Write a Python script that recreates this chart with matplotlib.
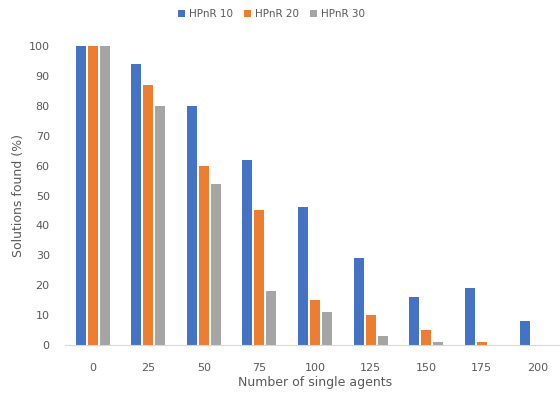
import matplotlib.pyplot as plt
import numpy as np

categories = ["0", "25", "50", "75", "100", "125", "150", "175", "200"]
hpnr10 = [100, 94, 80, 62, 46, 29, 16, 19, 8]
hpnr20 = [100, 87, 60, 45, 15, 10, 5, 1, 0]
hpnr30 = [100, 80, 54, 18, 11, 3, 1, 0, 0]

series = [
    ("HPnR 10", hpnr10, "#4472C4"),
    ("HPnR 20", hpnr20, "#ED7D31"),
    ("HPnR 30", hpnr30, "#A5A5A5"),
]

fig = plt.figure(figsize=(5.6, 3.97), dpi=100)
ax = fig.add_axes([65 / 560, 52 / 397, 500 / 560, 299 / 397])

x = np.arange(len(categories))
width = 0.18
step = 0.216
for i, (name, vals, color) in enumerate(series):
    ax.bar(x + (i - 1) * step, vals, width, color=color, label=name)

ax.set_xlim(-0.5, len(categories) - 0.5)
ax.set_ylim(0, 100)
ax.set_yticks(range(0, 101, 10))
ax.set_xticks(x)
ax.set_xticklabels(categories)
ax.tick_params(length=0, labelsize=8, colors="#595959")
ax.tick_params(axis="x", pad=13)
ax.tick_params(axis="y", pad=11)

for side in ("top", "right", "left"):
    ax.spines[side].set_visible(False)
ax.spines["bottom"].set_color("#D9D9D9")

ax.set_xlabel("Number of single agents", fontsize=9, color="#595959", labelpad=2)
ax.set_ylabel("Solutions found (%)", fontsize=9, color="#595959", labelpad=3)

fig.legend(
    loc="center", bbox_to_anchor=(0.485, 1 - 14 / 397), ncol=3, frameon=False,
    fontsize=7.5, handlelength=0.7, handleheight=0.7, handletextpad=0.4,
    columnspacing=1.0, labelcolor="#595959",
)

fig.savefig("out.png", dpi=100)
